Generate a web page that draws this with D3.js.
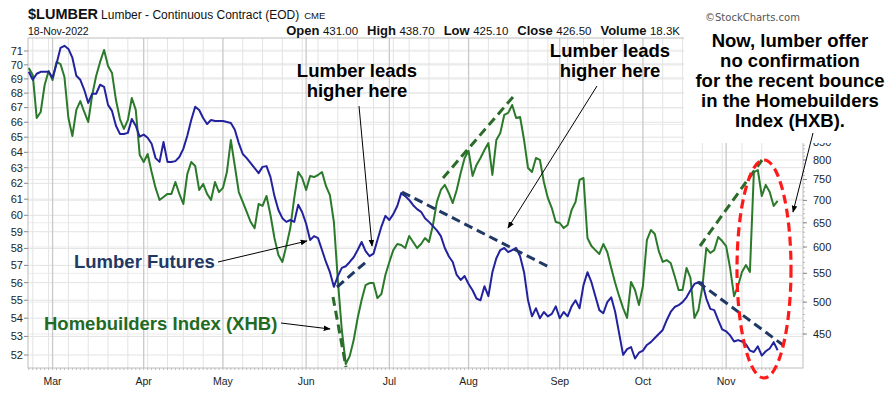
<!DOCTYPE html>
<html><head><meta charset="utf-8">
<script src="https://cdn.jsdelivr.net/npm/d3@7"></script>
<style>body{margin:0;background:#fff}svg{display:block;font-family:"Liberation Sans",Arial,sans-serif}</style>
</head><body><svg id="c" width="889" height="393"></svg>
<script>
// ---- data ----
const startDate = "2022-02-18", endDate = "2022-11-18";
const holidays = ["2022-02-21","2022-04-15","2022-05-30","2022-06-20","2022-07-04","2022-09-05"];
const lumber = [
1071,1043,1064,1071,1071,1071,1050,1100,1159,1167,
1155,1122,1057,1043,1009,966,996,996,1026,1019,
960,941,896,872,872,875,916,896,864,870,
861,844,805,795,849,795,795,797,808,830,
867,913,954,944,919,901,913,910,910,910,
907,904,884,846,816,805,792,779,766,782,
784,756,710,678,660,652,656,652,690,673,
648,614,622,618,594,571,552,526,545,560,
563,571,580,594,610,592,582,587,614,642,
665,656,669,687,717,710,701,689,680,674,
660,652,643,634,622,598,582,571,547,538,
545,531,520,506,503,527,510,552,578,594,
598,590,594,598,582,552,503,477,490,474,
484,477,481,493,474,484,477,493,503,490,
529,552,534,510,487,482,500,508,484,451,
420,428,431,415,423,426,434,438,444,450,
456,471,484,492,495,500,508,520,531,534,
533,506,489,487,471,457,454,448,439,441,
439,435,426,424,432,419,425,429,438,426.5];
const xhb = [
69.77,69.28,66.29,66.70,68.57,69.56,68.92,70.21,70.06,69.13,
66.29,65.08,66.84,67.45,66.70,66.02,67.87,69.20,70.21,71.07,
69.92,69.42,67.52,66.22,65.55,66.15,67.66,66.84,63.82,63.37,
63.89,62.72,61.71,60.95,61.14,61.33,61.33,62.08,61.33,60.70,
62.59,63.37,63.11,61.58,61.96,61.33,60.95,62.08,61.45,61.71,
62.72,64.81,63.11,61.45,60.83,60.21,59.59,59.22,60.70,60.58,
61.20,60.02,58.62,57.61,57.20,58.14,59.22,61.08,62.72,62.34,
61.58,62.47,62.40,62.53,62.72,61.83,61.26,59.59,56.15,53.35,
51.52,51.94,52.80,54.01,55.01,55.86,55.98,55.98,55.12,55.35,
56.44,57.20,57.90,58.26,58.20,58.02,58.74,58.38,58.02,58.26,
58.62,58.38,59.41,60.83,61.58,61.90,61.39,60.76,61.58,62.66,
63.63,64.09,62.47,63.18,63.63,64.15,64.61,62.53,64.81,65.28,
66.50,66.64,67.18,66.29,66.36,64.81,62.98,62.72,63.63,63.50,
62.08,61.08,60.45,59.59,59.53,59.22,59.41,60.33,60.83,62.21,
62.34,58.62,58.14,57.90,57.67,58.26,57.79,56.85,55.98,55.23,
54.56,54.01,56.04,55.58,54.73,55.81,58.50,59.10,58.86,57.84,
57.20,57.31,57.14,56.38,55.58,55.58,56.85,56.27,54.01,54.45,
55.75,58.02,57.73,57.90,58.68,58.44,58.14,56.85,55.23,55.81,
56.62,57.02,56.62,62.72,62.85,61.20,61.90,61.45,60.58,60.89];
const leftTicks = [52,53,54,55,56,57,58,59,60,61,62,63,64,65,66,67,68,69,70,71];
const rightTicks = [450,500,550,600,650,700,750,800,850,900,950,1000,1050,1100,1150,1200];
const monthNames = ["Jan","Feb","Mar","Apr","May","Jun","Jul","Aug","Sep","Oct","Nov","Dec"];
const quote = [["Open","431.00"],["High","438.70"],["Low","425.10"],["Close","426.50"],["Volume","18.3K"]];

// ---- trading days ----
const days = [];
for (let d = new Date(startDate+"T00:00:00Z"); d <= new Date(endDate+"T00:00:00Z"); d = new Date(d.getTime()+86400000)) {
  const wd = d.getUTCDay(); const iso = d.toISOString().slice(0,10);
  if (wd===0||wd===6||holidays.includes(iso)) continue;
  days.push(d);
}

const svg = d3.select("#c");
const L = 28, R = 803, T = 38, B = 368;
const x = d3.scaleLinear().domain([-0.2, 195.4]).range([L, R]);
const yL = d3.scaleLog().domain([52, 71]).range([355, 51]);
const yR = d3.scaleLog().domain([450, 800]).range([334, 160]);
const boxBottom = 143;

const grid = svg.append("g");
leftTicks.forEach(v => grid.append("line").attr("x1",L).attr("x2",R).attr("y1",yL(v)).attr("y2",yL(v)).attr("stroke","#e3e3e3"));
rightTicks.forEach(v => { const y=yR(v); if(y>T&&y<B) grid.append("line").attr("x1",L).attr("x2",R).attr("y1",y).attr("y2",y).attr("stroke","#ebebeb"); });
const monthStarts = [];
days.forEach((d,i) => {
  if (i===0) return;
  const p = days[i-1];
  const newMonth = d.getUTCMonth()!==p.getUTCMonth();
  const newWeek = d.getUTCDay() < p.getUTCDay() || (d-p) > 3*86400000;
  if (newMonth) monthStarts.push(i);
  if (newWeek || newMonth) grid.append("line").attr("x1",x(i)).attr("x2",x(i)).attr("y1",T).attr("y2",B)
     .attr("stroke", newMonth ? "#c9c9c9" : "#e3e3e3").attr("stroke-width", newMonth?1.3:1);
});
svg.append("rect").attr("x",L).attr("y",T).attr("width",R-L).attr("height",B-T).attr("fill","none").attr("stroke","#bdbdbd");

days.forEach((d,i)=> svg.append("line").attr("x1",x(i)).attr("x2",x(i)).attr("y1",B).attr("y2",B+2).attr("stroke","#bbb"));
monthStarts.forEach(i => svg.append("text").attr("x",x(i)).attr("y",385).attr("text-anchor","middle")
  .attr("font-size",10.5).attr("fill","#222").text(monthNames[days[i].getUTCMonth()]));

leftTicks.forEach(v => {
  svg.append("line").attr("x1",L-4).attr("x2",L).attr("y1",yL(v)).attr("y2",yL(v)).attr("stroke","#888");
  svg.append("text").attr("x",L-5).attr("y",yL(v)).attr("dy","0.35em").attr("text-anchor","end").attr("font-size",11).attr("fill","#222").text(v);
});
d3.range(450,1210,10).forEach(v => { const y=yR(v); if(y>T&&y<B) svg.append("line").attr("x1",R).attr("x2",R+2).attr("y1",y).attr("y2",y).attr("stroke","#bbb"); });
rightTicks.forEach(v => { const y=yR(v); if(y<T||y>B) return;
  svg.append("line").attr("x1",R).attr("x2",R+4).attr("y1",y).attr("y2",y).attr("stroke","#888");
  if (y > boxBottom - 4) svg.append("text").attr("x",R+10).attr("y",y).attr("dy","0.35em").attr("font-size",11).attr("fill","#222").text(v);
});

svg.append("clipPath").attr("id","pc").append("rect").attr("x",L).attr("y",T).attr("width",R-L).attr("height",B-T);
const pg = svg.append("g").attr("clip-path","url(#pc)");
pg.append("path").datum(xhb).attr("fill","none").attr("stroke","#2b7a2b").attr("stroke-width",2).attr("stroke-linejoin","round")
  .attr("d", d3.line().x((d,i)=>x(i)).y(d=>yL(d)));
pg.append("path").datum(lumber).attr("fill","none").attr("stroke","#22229e").attr("stroke-width",2).attr("stroke-linejoin","round")
  .attr("d", d3.line().x((d,i)=>x(i)).y(d=>yR(d)));

// header
const hdr = svg.append("g");
const t1 = hdr.append("text").attr("x",28).attr("y",19).attr("fill","#111");
t1.append("tspan").attr("font-weight","bold").attr("font-size",14.5).text("$LUMBER");
t1.append("tspan").attr("font-size",12).attr("dx",3).text("Lumber - Continuous Contract (EOD)");
t1.append("tspan").attr("font-size",9.5).attr("dx",5).text("CME");
hdr.append("text").attr("x",28).attr("y",35).attr("font-size",10.5).attr("fill","#111").text("18-Nov-2022");
const t2 = hdr.append("text").attr("x",680).attr("y",35).attr("text-anchor","end").attr("fill","#111");
quote.forEach((p,k)=>{
  t2.append("tspan").attr("font-weight","bold").attr("font-size",13).attr("dx", k ? 9 : 0).text(p[0]);
  t2.append("tspan").attr("font-size",11.5).attr("dx",3.5).text(p[1]);
});

// annotation box
svg.append("rect").attr("x",684).attr("y",24).attr("width",205).attr("height",boxBottom-24).attr("fill","#fff");
svg.append("text").attr("x",705).attr("y",21).attr("font-family","'DejaVu Sans',sans-serif").attr("font-size",10).attr("fill","#555").text("\u00A9StockCharts.com");

function bigText(lines, cx, y0, color, anchor) {
  const t = svg.append("text").attr("font-weight","bold").attr("font-size",18.5).attr("fill",color||"#000")
    .attr("text-anchor",anchor||"middle");
  lines.forEach((s,k)=> t.append("tspan").attr("x",cx).attr("y",y0+k*20).text(s));
}
bigText(["Now, lumber offer","no confirmation","for the recent bounce","in the Homebuilders","Index (HXB)."], 790, 47);
bigText(["Lumber leads","higher here"], 357, 77);
bigText(["Lumber leads","higher here"], 610, 57);
bigText(["Lumber Futures"], 74, 268, "#1f3864", "start");
bigText(["Homebuilders Index (XHB)"], 44, 330, "#1f6b24", "start");

function dash(x1,y1,x2,y2,c){ svg.append("line").attr("x1",x1).attr("y1",y1).attr("x2",x2).attr("y2",y2)
  .attr("stroke",c).attr("stroke-width",3).attr("stroke-dasharray","9,5"); }
const gD = "#2a6b2a", nD = "#203864";
dash(333,297,346,367,gD);
dash(337,287,366,262,nD);
dash(402,192,551,268,nD);
dash(443,178,513,97,gD);
dash(700,246,762,160,gD);
dash(698,282,787,348,nD);
svg.append("ellipse").attr("cx",764).attr("cy",269).attr("rx",27).attr("ry",109).attr("fill","none")
  .attr("stroke","#ff1a1a").attr("stroke-width",3.2).attr("stroke-dasharray","9,5");

svg.append("defs").append("marker").attr("id","ah").attr("viewBox","0 0 10 10").attr("refX",9).attr("refY",5)
  .attr("markerWidth",7).attr("markerHeight",7).attr("orient","auto")
  .append("path").attr("d","M0,1L10,5L0,9z").attr("fill","#000");
function arrow(x1,y1,x2,y2){ svg.append("line").attr("x1",x1).attr("y1",y1).attr("x2",x2).attr("y2",y2)
  .attr("stroke","#000").attr("stroke-width",1).attr("marker-end","url(#ah)"); }
arrow(218,262,307,241);
arrow(281,323,330,329);
arrow(359,106,372,246);
arrow(597,86,508,228);
arrow(813,133,793,212);
</script></body></html>
